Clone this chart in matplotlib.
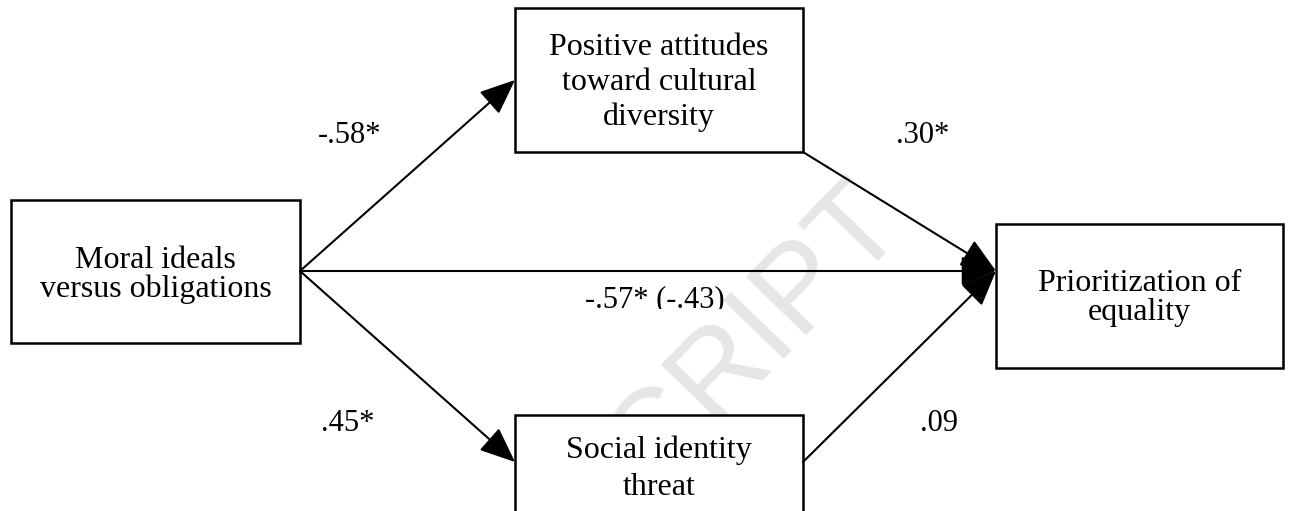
import matplotlib
matplotlib.use("Agg")
import matplotlib.pyplot as plt
from matplotlib.patches import Rectangle, ArrowStyle

# ---- data ----
node_lines = [["Moral ideals", "versus obligations"],
              ["Positive attitudes", "toward cultural", "diversity"],
              ["Social identity", "threat"],
              ["Prioritization of", "equality"]]
# box extents in pixel layout (x0, y0, x1, y1)
node_x0 = [11, 515, 515, 996]
node_y0 = [200, 8, 415, 224]
node_x1 = [300, 803, 803, 1283]
node_y1 = [343, 152, 540, 368]
# first baseline and line step for each box's text
node_base = [268, 55, 458, 291]
node_step = [29, 35, 37, 29]

path_labels = ["-.58*", ".30*", "-.57* (-.43)", ".45*", ".09"]
label_x = [350, 923, 655, 348, 939]
label_y = [143, 143, 307, 431, 431]

W, H = 1289, 511
fig = plt.figure(figsize=(W / 100, H / 100), dpi=100)
ax = fig.add_axes([0, 0, 1, 1])
ax.set_xlim(0, W)
ax.set_ylim(H, 0)
ax.axis("off")

serif = ["Liberation Serif", "DejaVu Serif"]
FS_BOX = 23
FS_LAB = 22

# watermark
ax.text(845, 168, "ACCEPTED MANUSCRIPT", rotation=46, color="#e6e6e6",
        fontsize=88, family=["Liberation Sans", "DejaVu Sans"],
        ha="right", va="top", rotation_mode="anchor", zorder=0)

# boxes
for lines, x0, y0, x1, y1, b, s in zip(node_lines, node_x0, node_y0, node_x1,
                                       node_y1, node_base, node_step):
    ax.add_patch(Rectangle((x0, y0), x1 - x0, y1 - y0, facecolor="white",
                           edgecolor="black", lw=1.8, zorder=2))
    for k, line in enumerate(lines):
        ax.text((x0 + x1) / 2, b + k * s, line, ha="center", va="baseline",
                fontsize=FS_BOX, family=serif, zorder=3)

style = ArrowStyle("-|>", head_length=1.0, head_width=0.42)

def arrow(p0, p1):
    ax.annotate("", xy=p1, xytext=p0,
                arrowprops=dict(arrowstyle=style, mutation_scale=22, lw=1.5,
                                color="black", shrinkA=0, shrinkB=0),
                zorder=4)

src = (node_x1[0], 271)
arrow(src, (node_x0[1], 80))
arrow(src, (node_x0[2], 462))
arrow(src, (node_x0[3], 271))
arrow((node_x1[1], node_y1[1]), (node_x0[3], 271))
arrow((node_x1[2], 462), (node_x0[3], 271))

# path labels
for i, (lab, x, y) in enumerate(zip(path_labels, label_x, label_y)):
    t = ax.text(x, y, lab, ha="center", va="baseline", fontsize=FS_LAB,
                family=serif, zorder=5)
    if i == 2:
        clip = Rectangle((0, 0), W, 309, transform=ax.transData)
        t.set_clip_on(True)
        t.set_clip_path(clip)

fig.savefig("out.png", dpi=100)
